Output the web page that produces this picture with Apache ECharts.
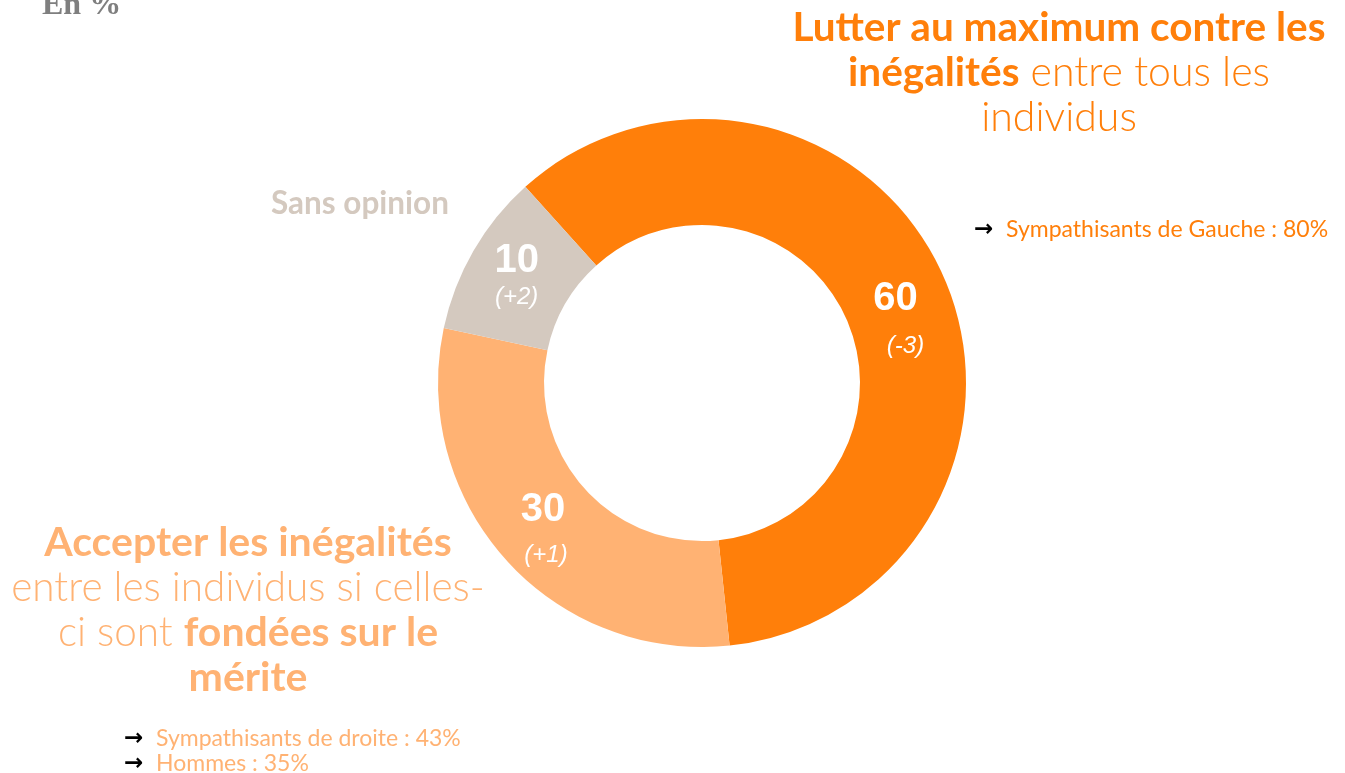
<!DOCTYPE html>
<html>
<head>
<meta charset="utf-8">
<script src="https://cdn.jsdelivr.net/npm/echarts@6/dist/echarts.min.js"></script>
<style>
  html, body { margin: 0; padding: 0; background: #fff; }
  #chart { width: 1345px; height: 773px; }
</style>
</head>
<body>
<div id="chart"></div>
<script>
// données
const categories = ["Lutter au maximum contre les inégalités", "Accepter les inégalités fondées sur le mérite", "Sans opinion"];
const values = [60, 30, 10];
const changes = ["(-3)", "(+1)", "(+2)"];
const colors = ["#FF7F0A", "#FFB273", "#D4C9BF"];
const gaucheNotes = ["Sympathisants de Gauche : 80%"];
const droiteNotes = ["Sympathisants de droite : 43%", "Hommes : 35%"];

const FONT = "Lato, 'Noto Sans', sans-serif";
const NUM_FONT = "'Liberation Sans', Arial, sans-serif";
// réglages des étiquettes internes (écart entre valeur et évolution)
const labelTweaks = [
  { dLine: 50, offset: [-2, 28], pad: 20 },
  { dLine: 46, offset: [0, 7], pad: 6 },
  { dLine: 28, offset: [0, -1], pad: 0 },
];

function noteGraphics(notes, x, y, color) {
  const out = [];
  notes.forEach((n, i) => {
    out.push({
      type: "text",
      x: x,
      y: y + i * 25,
      style: {
        text: "→",
        fontFamily: "'DejaVu Sans'",
        fontWeight: "bold",
        fontSize: 23,
        fill: "#000",
        verticalAlign: "middle",
      },
    });
    out.push({
      type: "text",
      x: x + 32,
      y: y + i * 25,
      style: {
        text: n,
        fontFamily: FONT,
        fontSize: 23,
        fill: color,
        verticalAlign: "middle",
      },
    });
  });
  return out;
}

const chart = echarts.init(document.getElementById("chart"));

const option = {
  backgroundColor: "#fff",
  animation: false,
  series: [
    {
      type: "pie",
      center: [702, 383],
      radius: [158, 264],
      startAngle: 132,
      clockwise: true,
      avoidLabelOverlap: false,
      silent: true,
      labelLine: { show: false },
      data: values.map((v, i) => ({
        name: categories[i],
        value: v,
        itemStyle: { color: colors[i] },
        label: {
          show: true,
          position: "inside",
          offset: labelTweaks[i].offset,
          formatter: "{v|" + v + "}\n{d|" + changes[i] + "}",
          rich: {
            v: { fontFamily: NUM_FONT, fontWeight: "bold", fontSize: 40, color: "#fff", lineHeight: 44 },
            d: {
              fontFamily: NUM_FONT,
              fontStyle: "italic",
              fontSize: 24,
              color: "#fff",
              lineHeight: labelTweaks[i].dLine,
              padding: [0, 0, 0, labelTweaks[i].pad],
            },
          },
        },
      })),
    },
  ],
  graphic: [
    {
      type: "text",
      left: 42,
      top: -10,
      style: {
        text: "En %",
        fontFamily: "'Liberation Serif', 'DejaVu Serif', serif",
        fontWeight: "bold",
        fontSize: 32,
        fill: "#7F7F7F",
      },
    },
    {
      type: "text",
      x: 1059,
      y: 5,
      style: {
        text: "{b|Lutter au maximum contre les}\n{b|inégalités}{l| entre tous les}\n{l|individus}",
        align: "center",
        rich: {
          b: { fontFamily: FONT, fontWeight: "bold", fontSize: 40.5, fill: "#FF7F0A", lineHeight: 45 },
          l: { fontFamily: FONT, fontWeight: 300, fontSize: 41, fill: "#FF7F0A", lineHeight: 45 },
        },
      },
    },
    {
      type: "text",
      x: 360,
      y: 188,
      style: {
        text: "Sans opinion",
        align: "center",
        fontFamily: FONT,
        fontWeight: "bold",
        fontSize: 31.5,
        fill: "#D4C9BF",
      },
    },
    {
      type: "text",
      x: 248,
      y: 520,
      style: {
        text: "{b|Accepter les inégalités}\n{l|entre les individus si celles-}\n{l|ci sont }{b|fondées sur le}\n{b|mérite}",
        align: "center",
        rich: {
          b: { fontFamily: FONT, fontWeight: "bold", fontSize: 41, fill: "#FFB273", lineHeight: 45 },
          l: { fontFamily: FONT, fontWeight: 300, fontSize: 40.5, fill: "#FFB273", lineHeight: 45 },
        },
      },
    },
    ...noteGraphics(gaucheNotes, 974, 230, "#FF7F0A"),
    ...noteGraphics(droiteNotes, 124, 739, "#FFB273"),
  ],
};

chart.setOption(option);
</script>
</body>
</html>
